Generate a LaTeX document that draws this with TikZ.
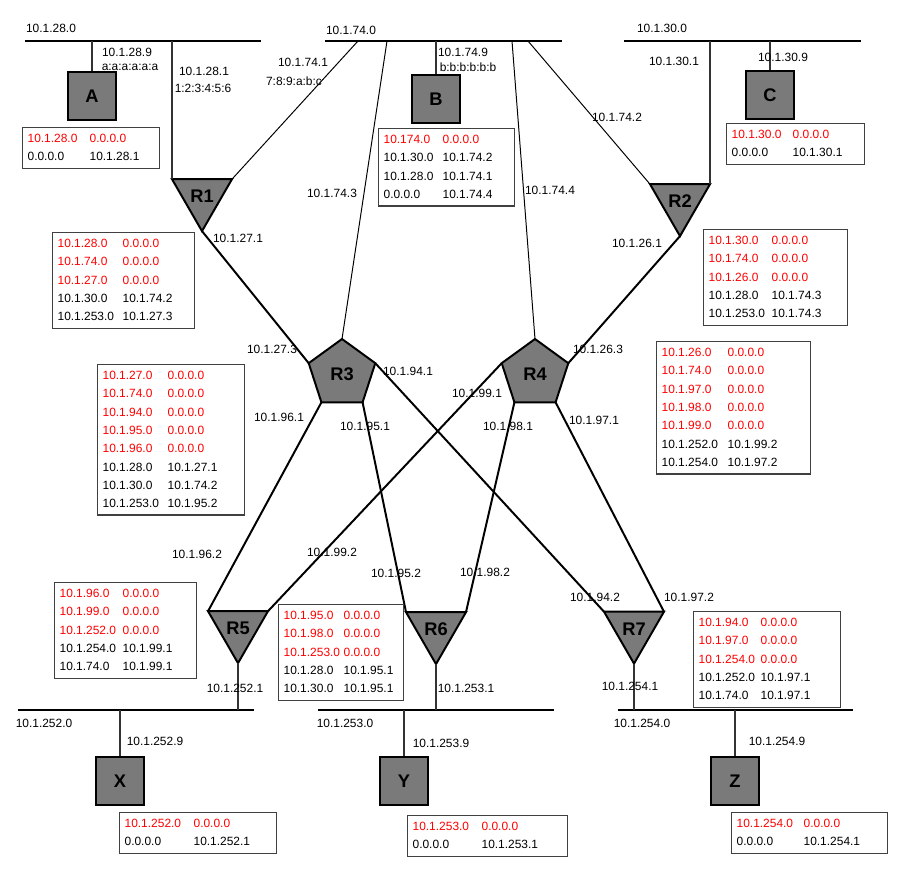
\documentclass[tikz,border=0pt]{standalone}
\usepackage{fontspec}
\setmainfont{Liberation Sans}
\usetikzlibrary{shapes.geometric}
\definecolor{boxgray}{RGB}{122,122,122}
\newlength{\pxl}\setlength{\pxl}{0.025cm}
\newcommand{\lblfont}{\fontsize{8.5}{13}\selectfont}
\newcommand{\rd}[2]{\textcolor{red}{#1} & \textcolor{red}{#2}}
\newcommand{\rtab}[3]{\begin{tabular}{@{}p{#1\pxl}@{}p{#2\pxl}@{}}#3\end{tabular}}
\begin{document}
\begin{tikzpicture}[x=0.025cm,y=-0.025cm,
    bus/.style={line width=2.1pt},
    link/.style={line width=1.4pt},
    feed/.style={line width=0.7pt},
    drop/.style={line width=1pt,black!80},
    host/.style={draw,line width=2pt,fill=boxgray,minimum size=1.2cm,inner sep=0,font=\fontsize{13}{15}\selectfont\bfseries},
    router/.style={draw,line width=1.4pt,fill=boxgray,regular polygon,inner sep=0,outer sep=0,font=\fontsize{13}{15}\selectfont\bfseries},
    tri/.style={router,regular polygon sides=3,regular polygon rotate=180,minimum size=1.73cm},
    penta/.style={router,regular polygon sides=5,minimum size=1.75cm},
    lbl/.style={font=\lblfont,inner sep=0},
    tbl/.style={draw=black!75,fill=white,line width=1pt,anchor=north west,inner xsep=3.5pt,inner ysep=1.5pt,font=\lblfont}]
    \useasboundingbox (0,0) rectangle (906,868);

    \coordinate (b28w) at (25,41); \coordinate (b28e) at (261,41);
    \coordinate (b74w) at (325,41); \coordinate (b74e) at (562,41);
    \coordinate (b30w) at (624,41); \coordinate (b30e) at (861,41);
    \coordinate (b252w) at (18,710); \coordinate (b252e) at (254,710);
    \coordinate (b253w) at (318,710); \coordinate (b253e) at (554,710);
    \coordinate (b254w) at (618,710); \coordinate (b254e) at (853,710);
    \coordinate (tR1) at (358,41); \coordinate (tR3) at (387,41);
    \coordinate (tR4) at (512,41); \coordinate (tR2) at (528,41);

    \foreach \b in {28,74,30,252,253,254} \draw[bus] (b\b w) -- (b\b e);

    \node[host] (A) at (92,96) {A};
    \node[host] (B) at (436,99) {B};
    \node[host] (C) at (770,95) {C};
    \node[host] (X) at (120,781) {X};
    \node[host] (Y) at (404,781) {Y};
    \node[host] (Z) at (735,781) {Z};

    \node[tri] (R1) at (202,196.5) {R1};
    \node[tri] (R2) at (680,201.5) {R2};
    \node[penta] (R3) at (342,374) {R3};
    \node[penta] (R4) at (535,374) {R4};
    \node[tri] (R5) at (238,628.5) {R5};
    \node[tri] (R6) at (436,629.5) {R6};
    \node[tri] (R7) at (634,629) {R7};

    \draw[drop] (A.north) -- (A.north |- b28w);
    \draw[drop] (B.north) -- (B.north |- b74w);
    \draw[drop] (C.north) -- (C.north |- b30w);
    \draw[drop] (X.north) -- (X.north |- b252w);
    \draw[drop] (Y.north) -- (Y.north |- b253w);
    \draw[drop] (Z.north) -- (Z.north |- b254w);
    \draw[drop] (R1.corner 3) -- (R1.corner 3 |- b28w);
    \draw[drop] (R2.corner 2) -- (R2.corner 2 |- b30w);
    \draw[drop] (R5.corner 1) -- (R5.corner 1 |- b252w);
    \draw[drop] (R6.corner 1) -- (R6.corner 1 |- b253w);
    \draw[drop] (R7.corner 1) -- (R7.corner 1 |- b254w);

    \draw[feed] (R1.corner 2) -- (tR1);
    \draw[feed] (tR3) -- (R3.corner 1);
    \draw[feed] (tR4) -- (R4.corner 1);
    \draw[feed] (tR2) -- (R2.corner 3);

    \draw[link] (R1.corner 1) -- (R3.corner 2);
    \draw[link] (R2.corner 1) -- (R4.corner 5);
    \draw[link] (R3.corner 3) -- (R5.corner 3);
    \draw[link] (R3.corner 4) -- (R6.corner 3);
    \draw[link] (R3.corner 5) -- (R7.corner 3);
    \draw[link] (R4.corner 2) -- (R5.corner 2);
    \draw[link] (R4.corner 3) -- (R6.corner 2);
    \draw[link] (R4.corner 4) -- (R7.corner 2);

    \foreach \x/\y/\lab [count=\i] in {51/28/10.1.28.0, 127/52/10.1.28.9, 130/67/a:a:a:a:a:a,
        204/71/10.1.28.1, 203/88/1:2:3:4:5:6, 351/30/10.1.74.0, 303/62/10.1.74.1, 294/81/7:8:9:a:b:c,
        463/52/10.1.74.9, 468/67/b:b:b:b:b:b, 332/193/10.1.74.3, 550/190/10.1.74.4, 617/117/10.1.74.2,
        662/28/10.1.30.0, 674/61/10.1.30.1, 783/57/10.1.30.9, 238/238/10.1.27.1, 637/243/10.1.26.1,
        272/349/10.1.27.3, 598/349/10.1.26.3, 408/371/10.1.94.1, 477/393/10.1.99.1, 279/417/10.1.96.1,
        365/426/10.1.95.1, 508/426/10.1.98.1, 594/420/10.1.97.1, 197/554/10.1.96.2, 332/552/10.1.99.2,
        396/573/10.1.95.2, 485/572/10.1.98.2, 595/597/10.1.94.2, 689/597/10.1.97.2, 235/688/10.1.252.1,
        466/688/10.1.253.1, 630/686/10.1.254.1, 44/723/10.1.252.0, 345/723/10.1.253.0, 642/723/10.1.254.0,
        155/741/10.1.252.9, 441/743/10.1.253.9, 777/741/10.1.254.9}
        \node[lbl] (l\i) at (\x,\y) {\lab};

    \node[tbl] (tabA) at (22,127) {\rtab{62}{65}{\rd{10.1.28.0}{0.0.0.0}\\ 0.0.0.0 & 10.1.28.1}};
    \node[tbl] (tabB) at (378,128) {\rtab{59}{67}{\rd{10.174.0}{0.0.0.0}\\ 10.1.30.0 & 10.1.74.2\\ 10.1.28.0 & 10.1.74.1\\ 0.0.0.0 & 10.1.74.4}};
    \node[tbl] (tabC) at (726,123) {\rtab{61}{67}{\rd{10.1.30.0}{0.0.0.0}\\ 0.0.0.0 & 10.1.30.1}};
    \node[tbl] (tabR1) at (52,232) {\rtab{65}{67}{\rd{10.1.28.0}{0.0.0.0}\\ \rd{10.1.74.0}{0.0.0.0}\\ \rd{10.1.27.0}{0.0.0.0}\\ 10.1.30.0 & 10.1.74.2\\ 10.1.253.0 & 10.1.27.3}};
    \node[tbl] (tabR2) at (703,229) {\rtab{63}{71}{\rd{10.1.30.0}{0.0.0.0}\\ \rd{10.1.74.0}{0.0.0.0}\\ \rd{10.1.26.0}{0.0.0.0}\\ 10.1.28.0 & 10.1.74.3\\ 10.1.253.0 & 10.1.74.3}};
    \node[tbl] (tabR3) at (97,364) {\rtab{65}{72}{\rd{10.1.27.0}{0.0.0.0}\\ \rd{10.1.74.0}{0.0.0.0}\\ \rd{10.1.94.0}{0.0.0.0}\\ \rd{10.1.95.0}{0.0.0.0}\\ \rd{10.1.96.0}{0.0.0.0}\\ 10.1.28.0 & 10.1.27.1\\ 10.1.30.0 & 10.1.74.2\\ 10.1.253.0 & 10.1.95.2}};
    \node[tbl] (tabR4) at (656,341) {\rtab{66}{78}{\rd{10.1.26.0}{0.0.0.0}\\ \rd{10.1.74.0}{0.0.0.0}\\ \rd{10.1.97.0}{0.0.0.0}\\ \rd{10.1.98.0}{0.0.0.0}\\ \rd{10.1.99.0}{0.0.0.0}\\ 10.1.252.0 & 10.1.99.2\\ 10.1.254.0 & 10.1.97.2}};
    \node[tbl] (tabR5) at (54,582) {\rtab{63}{69}{\rd{10.1.96.0}{0.0.0.0}\\ \rd{10.1.99.0}{0.0.0.0}\\ \rd{10.1.252.0}{0.0.0.0}\\ 10.1.254.0 & 10.1.99.1\\ 10.1.74.0 & 10.1.99.1}};
    \node[tbl] (tabR6) at (278,604) {\rtab{60}{55}{\rd{10.1.95.0}{0.0.0.0}\\ \rd{10.1.98.0}{0.0.0.0}\\ \rd{10.1.253.0}{0.0.0.0}\\ 10.1.28.0 & 10.1.95.1\\ 10.1.30.0 & 10.1.95.1}};
    \node[tbl] (tabR7) at (693,611) {\rtab{62}{75}{\rd{10.1.94.0}{0.0.0.0}\\ \rd{10.1.97.0}{0.0.0.0}\\ \rd{10.1.254.0}{0.0.0.0}\\ 10.1.252.0 & 10.1.97.1\\ 10.1.74.0 & 10.1.97.1}};
    \node[tbl] (tabX) at (119,812) {\rtab{69}{78}{\rd{10.1.252.0}{0.0.0.0}\\ 0.0.0.0 & 10.1.252.1}};
    \node[tbl] (tabY) at (407,815) {\rtab{69}{81}{\rd{10.1.253.0}{0.0.0.0}\\ 0.0.0.0 & 10.1.253.1}};
    \node[tbl] (tabZ) at (731,812) {\rtab{67}{79}{\rd{10.1.254.0}{0.0.0.0}\\ 0.0.0.0 & 10.1.254.1}};
\end{tikzpicture}
\end{document}
